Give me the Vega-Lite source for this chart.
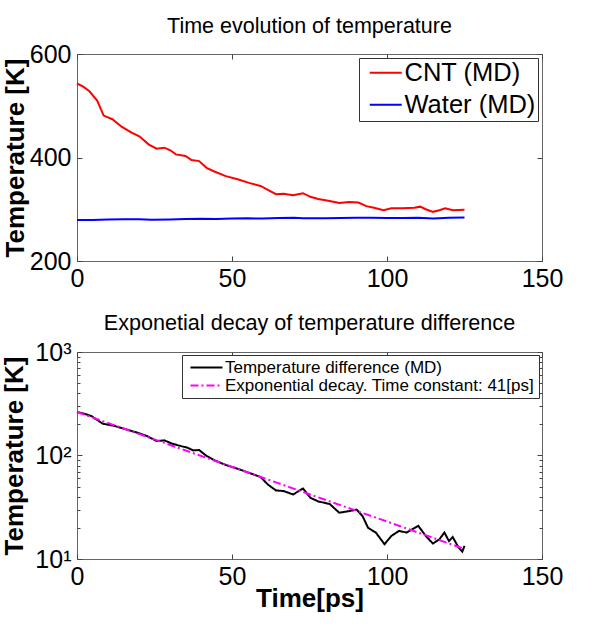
{
  "$schema": "https://vega.github.io/schema/vega-lite/v6.json",
  "padding": {"left": 1, "top": 15, "right": 0, "bottom": 0},
  "background": "white",
  "datasets": {
    "top": [
      {"t": 0, "T": 543, "series": "CNT (MD)"},
      {"t": 2, "T": 537, "series": "CNT (MD)"},
      {"t": 4, "T": 528, "series": "CNT (MD)"},
      {"t": 6.5, "T": 510, "series": "CNT (MD)"},
      {"t": 8.6, "T": 481, "series": "CNT (MD)"},
      {"t": 11.4, "T": 474, "series": "CNT (MD)"},
      {"t": 14.5, "T": 459, "series": "CNT (MD)"},
      {"t": 17.6, "T": 448, "series": "CNT (MD)"},
      {"t": 20.1, "T": 441, "series": "CNT (MD)"},
      {"t": 23.2, "T": 425, "series": "CNT (MD)"},
      {"t": 25.7, "T": 417, "series": "CNT (MD)"},
      {"t": 28.2, "T": 419, "series": "CNT (MD)"},
      {"t": 30.1, "T": 414, "series": "CNT (MD)"},
      {"t": 31.9, "T": 406, "series": "CNT (MD)"},
      {"t": 35, "T": 403, "series": "CNT (MD)"},
      {"t": 36.9, "T": 395, "series": "CNT (MD)"},
      {"t": 39.4, "T": 393, "series": "CNT (MD)"},
      {"t": 41.8, "T": 380, "series": "CNT (MD)"},
      {"t": 44.3, "T": 373, "series": "CNT (MD)"},
      {"t": 48, "T": 364, "series": "CNT (MD)"},
      {"t": 51.8, "T": 358, "series": "CNT (MD)"},
      {"t": 55.5, "T": 351, "series": "CNT (MD)"},
      {"t": 59.2, "T": 345, "series": "CNT (MD)"},
      {"t": 61.7, "T": 337, "series": "CNT (MD)"},
      {"t": 64.2, "T": 329, "series": "CNT (MD)"},
      {"t": 66.6, "T": 330, "series": "CNT (MD)"},
      {"t": 69.7, "T": 327, "series": "CNT (MD)"},
      {"t": 72.9, "T": 331, "series": "CNT (MD)"},
      {"t": 75.3, "T": 324, "series": "CNT (MD)"},
      {"t": 77.8, "T": 320, "series": "CNT (MD)"},
      {"t": 81.5, "T": 316, "series": "CNT (MD)"},
      {"t": 84.6, "T": 312, "series": "CNT (MD)"},
      {"t": 87.7, "T": 314, "series": "CNT (MD)"},
      {"t": 90.8, "T": 313, "series": "CNT (MD)"},
      {"t": 93.3, "T": 306, "series": "CNT (MD)"},
      {"t": 95.8, "T": 303, "series": "CNT (MD)"},
      {"t": 98.9, "T": 298, "series": "CNT (MD)"},
      {"t": 101.4, "T": 302, "series": "CNT (MD)"},
      {"t": 105, "T": 302, "series": "CNT (MD)"},
      {"t": 108.8, "T": 303, "series": "CNT (MD)"},
      {"t": 110.7, "T": 305, "series": "CNT (MD)"},
      {"t": 112.5, "T": 300, "series": "CNT (MD)"},
      {"t": 114.8, "T": 295, "series": "CNT (MD)"},
      {"t": 116.9, "T": 298, "series": "CNT (MD)"},
      {"t": 118.8, "T": 302, "series": "CNT (MD)"},
      {"t": 121.2, "T": 298, "series": "CNT (MD)"},
      {"t": 125, "T": 299, "series": "CNT (MD)"},
      {"t": 0, "T": 279, "series": "Water (MD)"},
      {"t": 5, "T": 279, "series": "Water (MD)"},
      {"t": 10, "T": 280, "series": "Water (MD)"},
      {"t": 15, "T": 280.5, "series": "Water (MD)"},
      {"t": 20, "T": 280.5, "series": "Water (MD)"},
      {"t": 24, "T": 279.5, "series": "Water (MD)"},
      {"t": 30, "T": 280, "series": "Water (MD)"},
      {"t": 35, "T": 281, "series": "Water (MD)"},
      {"t": 40, "T": 281.5, "series": "Water (MD)"},
      {"t": 45, "T": 281, "series": "Water (MD)"},
      {"t": 50, "T": 282, "series": "Water (MD)"},
      {"t": 55, "T": 282.5, "series": "Water (MD)"},
      {"t": 60, "T": 282, "series": "Water (MD)"},
      {"t": 65, "T": 283, "series": "Water (MD)"},
      {"t": 70, "T": 283.5, "series": "Water (MD)"},
      {"t": 73, "T": 282.5, "series": "Water (MD)"},
      {"t": 80, "T": 282.5, "series": "Water (MD)"},
      {"t": 85, "T": 283, "series": "Water (MD)"},
      {"t": 90, "T": 283.5, "series": "Water (MD)"},
      {"t": 95, "T": 283.5, "series": "Water (MD)"},
      {"t": 100, "T": 283, "series": "Water (MD)"},
      {"t": 105, "T": 283, "series": "Water (MD)"},
      {"t": 110, "T": 283.5, "series": "Water (MD)"},
      {"t": 115, "T": 282, "series": "Water (MD)"},
      {"t": 120, "T": 283.5, "series": "Water (MD)"},
      {"t": 125, "T": 284, "series": "Water (MD)"}
    ],
    "bottom": [
      {"t": 0, "dT": 263, "series": "Temperature difference (MD)"},
      {"t": 2, "dT": 255, "series": "Temperature difference (MD)"},
      {"t": 4.6, "dT": 241, "series": "Temperature difference (MD)"},
      {"t": 8.3, "dT": 203, "series": "Temperature difference (MD)"},
      {"t": 12.1, "dT": 193, "series": "Temperature difference (MD)"},
      {"t": 15.8, "dT": 179, "series": "Temperature difference (MD)"},
      {"t": 19.5, "dT": 166, "series": "Temperature difference (MD)"},
      {"t": 22.6, "dT": 154, "series": "Temperature difference (MD)"},
      {"t": 25.7, "dT": 138, "series": "Temperature difference (MD)"},
      {"t": 28.2, "dT": 140, "series": "Temperature difference (MD)"},
      {"t": 30.7, "dT": 130, "series": "Temperature difference (MD)"},
      {"t": 33.2, "dT": 124, "series": "Temperature difference (MD)"},
      {"t": 35.6, "dT": 119, "series": "Temperature difference (MD)"},
      {"t": 37.5, "dT": 112, "series": "Temperature difference (MD)"},
      {"t": 39.4, "dT": 113, "series": "Temperature difference (MD)"},
      {"t": 41.8, "dT": 99, "series": "Temperature difference (MD)"},
      {"t": 44.3, "dT": 90, "series": "Temperature difference (MD)"},
      {"t": 48, "dT": 81, "series": "Temperature difference (MD)"},
      {"t": 51.8, "dT": 74.5, "series": "Temperature difference (MD)"},
      {"t": 55.5, "dT": 68, "series": "Temperature difference (MD)"},
      {"t": 59.2, "dT": 62, "series": "Temperature difference (MD)"},
      {"t": 61.7, "dT": 52, "series": "Temperature difference (MD)"},
      {"t": 64.2, "dT": 46, "series": "Temperature difference (MD)"},
      {"t": 66.6, "dT": 45.4, "series": "Temperature difference (MD)"},
      {"t": 69.7, "dT": 42, "series": "Temperature difference (MD)"},
      {"t": 72.9, "dT": 48, "series": "Temperature difference (MD)"},
      {"t": 75.3, "dT": 39, "series": "Temperature difference (MD)"},
      {"t": 77.8, "dT": 36, "series": "Temperature difference (MD)"},
      {"t": 81.5, "dT": 34, "series": "Temperature difference (MD)"},
      {"t": 84.6, "dT": 28, "series": "Temperature difference (MD)"},
      {"t": 87.7, "dT": 29, "series": "Temperature difference (MD)"},
      {"t": 90.2, "dT": 30, "series": "Temperature difference (MD)"},
      {"t": 92.1, "dT": 26, "series": "Temperature difference (MD)"},
      {"t": 93.9, "dT": 20, "series": "Temperature difference (MD)"},
      {"t": 96.4, "dT": 18, "series": "Temperature difference (MD)"},
      {"t": 99.2, "dT": 13.9, "series": "Temperature difference (MD)"},
      {"t": 101.4, "dT": 16.7, "series": "Temperature difference (MD)"},
      {"t": 103.9, "dT": 18.7, "series": "Temperature difference (MD)"},
      {"t": 106.3, "dT": 18, "series": "Temperature difference (MD)"},
      {"t": 108.2, "dT": 19.4, "series": "Temperature difference (MD)"},
      {"t": 110.1, "dT": 20.9, "series": "Temperature difference (MD)"},
      {"t": 112.5, "dT": 16.7, "series": "Temperature difference (MD)"},
      {"t": 114.8, "dT": 14.1, "series": "Temperature difference (MD)"},
      {"t": 116.9, "dT": 15.5, "series": "Temperature difference (MD)"},
      {"t": 118.5, "dT": 18, "series": "Temperature difference (MD)"},
      {"t": 120, "dT": 14.9, "series": "Temperature difference (MD)"},
      {"t": 121.2, "dT": 16.3, "series": "Temperature difference (MD)"},
      {"t": 123.1, "dT": 12.9, "series": "Temperature difference (MD)"},
      {"t": 124.3, "dT": 11.8, "series": "Temperature difference (MD)"},
      {"t": 125, "dT": 13.4, "series": "Temperature difference (MD)"},
      {"t": 0, "dT": 263, "series": "Exponential decay. Time constant: 41[ps]"},
      {"t": 25, "dT": 143, "series": "Exponential decay. Time constant: 41[ps]"},
      {"t": 50, "dT": 77.7, "series": "Exponential decay. Time constant: 41[ps]"},
      {"t": 75, "dT": 42.2, "series": "Exponential decay. Time constant: 41[ps]"},
      {"t": 100, "dT": 23.0, "series": "Exponential decay. Time constant: 41[ps]"},
      {"t": 125, "dT": 12.5, "series": "Exponential decay. Time constant: 41[ps]"}
    ]
  },
  "vconcat": [
    {
      "width": 465,
      "height": 207,
      "title": {"text": "Time evolution of temperature", "fontSize": 21.5, "fontWeight": "normal", "anchor": "middle", "offset": 5, "color": "#000"},
      "data": {"name": "top"},
      "layer": [
        {
          "mark": {"type": "line", "strokeWidth": 2},
          "encoding": {
            "x": {"field": "t", "type": "quantitative", "scale": {"domain": [0, 150], "nice": false},
                  "axis": {"values": [0, 50, 100, 150], "title": null, "labelPadding": 10}},
            "y": {"field": "T", "type": "quantitative", "scale": {"domain": [200, 600], "nice": false, "zero": false},
                  "axis": {"values": [200, 400, 600], "title": "Temperature [K]", "labelPadding": 11, "titlePadding": 1}},
            "color": {"field": "series", "type": "nominal",
                      "scale": {"domain": ["CNT (MD)", "Water (MD)"], "range": ["#ff0000", "#0000ff"]},
                      "legend": {"title": null, "orient": "top-right", "offset": 4, "strokeColor": "#333", "fillColor": "white",
                                 "padding": 2, "symbolType": "M-1,0L7,0", "symbolSize": 64, "symbolStrokeWidth": 2,
                                 "labelFontSize": 25.5, "labelOffset": 18, "rowPadding": 5, "labelLimit": 0, "labelColor": "#000"}}
          }
        },
        {
          "mark": {"type": "line", "opacity": 0},
          "encoding": {
            "x": {"field": "t", "type": "quantitative", "axis": {"orient": "top", "values": [0, 50, 100, 150], "labels": false, "title": null}},
            "y": {"field": "T", "type": "quantitative", "axis": {"orient": "right", "values": [200, 400, 600], "labels": false, "title": null}}
          }
        }
      ],
      "resolve": {"axis": {"x": "independent", "y": "independent"}}
    },
    {
      "width": 465,
      "height": 207,
      "title": {"text": "Exponetial decay of temperature difference", "fontSize": 21.6, "fontWeight": "normal", "anchor": "middle", "offset": 5, "color": "#000"},
      "data": {"name": "bottom"},
      "layer": [
        {
          "mark": {"type": "line", "strokeWidth": 2},
          "encoding": {
            "x": {"field": "t", "type": "quantitative", "scale": {"domain": [0, 150], "nice": false},
                  "axis": {"values": [0, 50, 100, 150], "title": "Time[ps]", "labelPadding": 10, "titlePadding": -4}},
            "y": {"field": "dT", "type": "quantitative", "scale": {"type": "log", "domain": [10, 1000], "nice": false},
                  "axis": {"values": [10, 20, 30, 40, 50, 60, 70, 80, 90, 100, 200, 300, 400, 500, 600, 700, 800, 900, 1000],
                           "labelExpr": "datum.value == 10 ? '10¹' : datum.value == 100 ? '10²' : datum.value == 1000 ? '10³' : ''",
                           "tickSize": {"condition": {"test": "datum.value == 10 || datum.value == 100 || datum.value == 1000", "value": -5}, "value": -3},
                           "title": "Temperature [K]", "labelPadding": 11, "titlePadding": 7}},
            "color": {"field": "series", "type": "nominal",
                      "scale": {"domain": ["Temperature difference (MD)", "Exponential decay. Time constant: 41[ps]"], "range": ["#000000", "#ff00ff"]},
                      "legend": {"title": null, "orient": "top-right", "offset": 3, "strokeColor": "#333", "fillColor": "white",
                                 "padding": 4, "symbolType": "M-1,0L7,0", "symbolSize": 64, "symbolStrokeWidth": 2,
                                 "labelFontSize": 17, "labelOffset": 22, "rowPadding": 0, "labelLimit": 0, "labelColor": "#000"}},
            "strokeDash": {"field": "series", "type": "nominal",
                      "scale": {"domain": ["Temperature difference (MD)", "Exponential decay. Time constant: 41[ps]"], "range": [[1, 0], [8, 3, 2, 3]]},
                      "legend": {"title": null, "orient": "top-right", "offset": 3, "strokeColor": "#333", "fillColor": "white",
                                 "padding": 4, "symbolType": "M-1,0L7,0", "symbolSize": 64, "symbolStrokeWidth": 2,
                                 "labelFontSize": 17, "labelOffset": 22, "rowPadding": 0, "labelLimit": 0, "labelColor": "#000"}}
          }
        },
        {
          "mark": {"type": "line", "opacity": 0},
          "encoding": {
            "x": {"field": "t", "type": "quantitative", "axis": {"orient": "top", "values": [0, 50, 100, 150], "labels": false, "title": null}},
            "y": {"field": "dT", "type": "quantitative",
                  "axis": {"orient": "right", "values": [10, 20, 30, 40, 50, 60, 70, 80, 90, 100, 200, 300, 400, 500, 600, 700, 800, 900, 1000], "labels": false, "title": null,
                           "tickSize": {"condition": {"test": "datum.value == 10 || datum.value == 100 || datum.value == 1000", "value": -5}, "value": -3}}}
          }
        }
      ],
      "resolve": {"axis": {"x": "independent", "y": "independent"}}
    }
  ],
  "spacing": 91,
  "bounds": "flush",
  "resolve": {"scale": {"color": "independent", "strokeDash": "independent", "x": "independent", "y": "independent"},
              "legend": {"color": "independent", "strokeDash": "independent"}},
  "config": {
    "font": "Liberation Sans",
    "view": {"stroke": "#666", "strokeWidth": 1},
    "axis": {"domain": false, "grid": false, "tickColor": "#444", "tickSize": -5, "labelFontSize": 25, "labelColor": "#000",
             "labelFlush": false, "labelOverlap": false, "labelBound": false, "titleFontSize": 26, "titleFontWeight": "bold", "titleColor": "#000"}
  }
}
